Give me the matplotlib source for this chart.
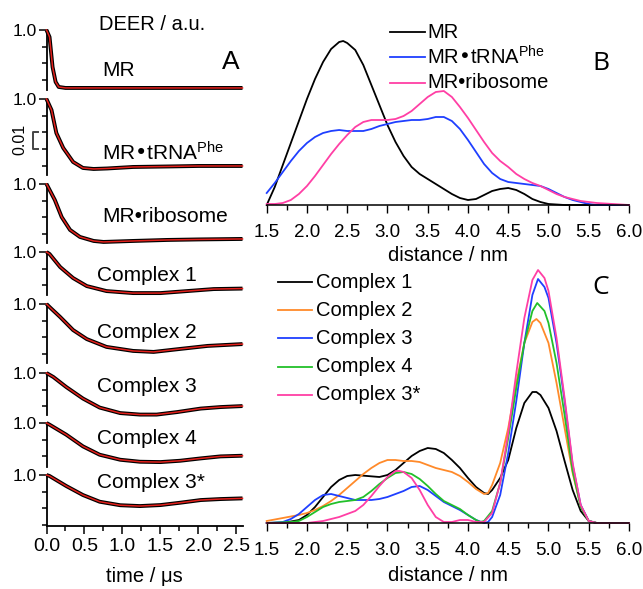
import matplotlib
matplotlib.use("Agg")
import matplotlib.pyplot as plt
from matplotlib.ticker import MultipleLocator, FixedLocator, FormatStrFormatter
import matplotlib.transforms as mtransforms

plt.rcParams['font.family'] = ['Liberation Sans', 'DejaVu Sans']
plt.rcParams['mathtext.default'] = 'regular'

W, H = 643, 589

# ---------------- Panel A data (time / us, decay in units of 0.01 below 1.0) ----------------
trace_names = ["MR", "MR•tRNA$^{Phe}$", "MR•ribosome", "Complex 1", "Complex 2",
               "Complex 3", "Complex 4", "Complex 3*"]
t_MR = [0, 0.04, 0.08, 0.12, 0.16, 0.25, 2.58]
d_MR = [0, 0.42, 2.22, 3.11, 3.41, 3.47, 3.47]
t_tRNA = [0, 0.066, 0.13, 0.22, 0.35, 0.48, 0.62, 0.8, 1.14, 1.6, 2.0, 2.58]
d_tRNA = [0, 0.66, 2.04, 2.93, 3.77, 4.13, 4.19, 4.16, 4.07, 4.04, 4.01, 4.01]
t_ribo = [0, 0.11, 0.2, 0.31, 0.44, 0.62, 0.75, 1.14, 1.59, 2.0, 2.58]
d_ribo = [0, 0.96, 1.98, 2.75, 3.17, 3.41, 3.47, 3.41, 3.35, 3.32, 3.29]
t_C1 = [0, 0.04, 0.18, 0.35, 0.53, 0.79, 1.14, 1.5, 1.85, 2.2, 2.58]
d_C1 = [0, 0.12, 0.90, 1.56, 2.04, 2.34, 2.46, 2.46, 2.34, 2.22, 2.19]
t_C2 = [0, 0.04, 0.18, 0.35, 0.53, 0.79, 1.14, 1.41, 1.76, 2.12, 2.58]
d_C2 = [0, 0.18, 0.78, 1.56, 2.10, 2.57, 2.81, 2.87, 2.69, 2.51, 2.40]
t_C3 = [0, 0.09, 0.26, 0.48, 0.7, 0.97, 1.23, 1.45, 1.72, 2.03, 2.29, 2.58]
d_C3 = [0, 0.24, 0.84, 1.53, 2.07, 2.40, 2.49, 2.49, 2.34, 2.13, 2.04, 1.98]
t_C4 = [0, 0.04, 0.26, 0.48, 0.7, 0.97, 1.23, 1.5, 1.76, 2.03, 2.29, 2.58]
d_C4 = [0, 0.10, 0.70, 1.40, 1.90, 2.20, 2.32, 2.34, 2.26, 2.12, 2.00, 1.96]
t_C3s = [0, 0.04, 0.26, 0.48, 0.7, 0.97, 1.23, 1.5, 1.76, 2.03, 2.29, 2.58]
d_C3s = [0, 0.06, 0.66, 1.20, 1.60, 1.81, 1.86, 1.80, 1.66, 1.50, 1.44, 1.40]
traces_t = [t_MR, t_tRNA, t_ribo, t_C1, t_C2, t_C3, t_C4, t_C3s]
traces_d = [d_MR, d_tRNA, d_ribo, d_C1, d_C2, d_C3, d_C4, d_C3s]
# visible depth of each trace's own y-axis (units of 0.01)
axis_depth = [3.6, 4.55, 3.55, 2.6, 3.55, 2.5, 2.65, 3.05]
time_ticks = [0.0, 0.5, 1.0, 1.5, 2.0, 2.5]

# ---------------- Panel B data (distance / nm, P(r) a.u.) ----------------
r_B_MR = [1.5, 1.6, 1.7, 1.8, 1.9, 2.0, 2.1, 2.2, 2.3, 2.4, 2.45, 2.5, 2.6, 2.7, 2.8, 2.9, 3.0,
          3.1, 3.2, 3.3, 3.4, 3.5, 3.6, 3.7, 3.8, 3.9, 4.0, 4.1, 4.2, 4.3, 4.4, 4.5, 4.6, 4.7,
          4.8, 4.9, 5.0, 5.2, 6.0]
p_B_MR = [0, 18, 40, 62, 84, 106, 126, 143, 156, 163, 164, 162, 155, 140, 120, 100, 80,
          63, 49, 38, 31, 26, 21, 16, 11, 7, 5, 6, 10, 14, 16, 17, 15, 11,
          6, 3, 1, 0, 0]
r_B_tRNA = [1.5, 1.6, 1.7, 1.8, 1.9, 2.0, 2.1, 2.2, 2.3, 2.4, 2.5, 2.6, 2.7, 2.8, 2.9, 3.0,
            3.1, 3.2, 3.3, 3.4, 3.5, 3.6, 3.7, 3.8, 3.9, 4.0, 4.1, 4.2, 4.3, 4.4, 4.5, 4.6,
            4.7, 4.8, 4.9, 5.0, 5.1, 5.2, 5.3, 5.4, 5.5, 5.6, 6.0]
p_B_tRNA = [12, 22, 33, 44, 54, 62, 68, 72, 74, 75, 74, 74, 74, 76, 79, 81,
            83, 84, 85, 85, 86, 88, 88, 84, 76, 65, 53, 41, 32, 26, 23, 22,
            21, 20, 19, 16, 12, 8, 5, 3, 1, 0, 0]
r_B_ribo = [1.5, 1.6, 1.7, 1.8, 1.9, 2.0, 2.1, 2.2, 2.3, 2.4, 2.5, 2.6, 2.7, 2.8, 2.9, 3.0,
            3.1, 3.2, 3.3, 3.4, 3.5, 3.6, 3.7, 3.8, 3.9, 4.0, 4.1, 4.2, 4.3, 4.4, 4.5, 4.6,
            4.7, 4.8, 4.9, 5.0, 5.1, 5.2, 5.3, 5.4, 5.5, 5.6, 5.8, 6.0]
p_B_ribo = [1, 1, 2, 5, 11, 19, 29, 40, 51, 61, 70, 78, 83, 85, 85, 85,
            86, 89, 94, 101, 108, 113, 114, 108, 98, 87, 75, 63, 52, 44, 38, 31,
            26, 22, 19, 15, 11, 8, 6, 4, 3, 2, 1, 0]
B_labels = ["MR", "MR•tRNA$^{Phe}$", "MR•ribosome"]
B_colors = ["#000000", "#1f3fff", "#ff3fa5"]

# ---------------- Panel C data ----------------
r_C1 = [1.5, 1.7, 1.9, 2.0, 2.1, 2.2, 2.3, 2.4, 2.5, 2.6, 2.75, 2.9, 3.0, 3.1, 3.2, 3.3, 3.4,
        3.5, 3.6, 3.7, 3.8, 3.9, 4.0, 4.1, 4.2, 4.25, 4.3, 4.4, 4.5, 4.6, 4.7, 4.8, 4.85, 4.9,
        5.0, 5.1, 5.2, 5.3, 5.4, 5.5, 5.6, 6.0]
p_C1 = [0, 0, 3, 8, 16, 26, 36, 43, 47, 48, 47, 46, 48, 53, 60, 67, 72,
        75, 74, 70, 63, 55, 45, 36, 30, 29, 33, 45, 63, 95, 120, 131, 131, 128,
        115, 92, 62, 33, 12, 2, 0, 0]
r_C2 = [1.5, 1.7, 1.9, 2.0, 2.1, 2.2, 2.3, 2.4, 2.5, 2.6, 2.7, 2.8, 2.9, 3.0, 3.1, 3.2, 3.3,
        3.4, 3.5, 3.6, 3.7, 3.8, 3.9, 4.0, 4.1, 4.2, 4.25, 4.3, 4.4, 4.5, 4.6, 4.7, 4.8, 4.85,
        4.9, 5.0, 5.1, 5.2, 5.3, 5.4, 5.5, 5.6, 6.0]
p_C2 = [2, 5, 8, 10, 13, 17, 22, 28, 35, 42, 49, 55, 60, 63, 63, 62, 62,
        61, 58, 55, 53, 51, 47, 41, 34, 29, 30, 38, 60, 95, 140, 180, 201, 204,
        200, 180, 140, 95, 50, 17, 2, 0, 0]
r_C3 = [1.5, 1.7, 1.8, 1.9, 2.0, 2.1, 2.2, 2.3, 2.4, 2.5, 2.6, 2.7, 2.8, 2.9, 3.0, 3.1, 3.2,
        3.3, 3.4, 3.5, 3.6, 3.7, 3.8, 3.9, 4.0, 4.1, 4.2, 4.25, 4.3, 4.4, 4.5, 4.6, 4.7, 4.8,
        4.87, 4.95, 5.0, 5.1, 5.2, 5.3, 5.4, 5.5, 5.6, 6.0]
p_C3 = [0, 1, 4, 9, 16, 23, 28, 29, 27, 25, 23, 23, 23, 24, 26, 29, 32,
        36, 37, 33, 27, 21, 17, 13, 8, 3, 0, 1, 6, 28, 70, 122, 180, 228,
        244, 236, 225, 180, 122, 58, 18, 2, 0, 0]
r_C4 = [1.5, 1.8, 1.9, 2.0, 2.1, 2.2, 2.3, 2.4, 2.5, 2.6, 2.7, 2.8, 2.9, 3.0, 3.1, 3.2, 3.3,
        3.4, 3.5, 3.6, 3.7, 3.8, 3.9, 4.0, 4.1, 4.15, 4.2, 4.3, 4.4, 4.5, 4.6, 4.7, 4.8, 4.86,
        4.95, 5.0, 5.1, 5.2, 5.3, 5.4, 5.5, 5.6, 6.0]
p_C4 = [0, 1, 2, 6, 11, 16, 19, 21, 22, 23, 26, 32, 39, 45, 50, 51, 49,
        44, 37, 29, 22, 18, 14, 8, 3, 1, 2, 12, 40, 85, 135, 180, 212, 220,
        212, 200, 160, 108, 52, 16, 2, 0, 0]
r_C3s = [1.5, 2.0, 2.2, 2.4, 2.5, 2.6, 2.7, 2.8, 2.9, 3.0, 3.1, 3.15, 3.2, 3.3, 3.4, 3.5,
         3.6, 3.7, 3.8, 3.9, 4.0, 4.1, 4.2, 4.3, 4.4, 4.5, 4.6, 4.7, 4.8, 4.87, 4.95, 5.0,
         5.1, 5.2, 5.3, 5.4, 5.5, 5.6, 6.0]
p_C3s = [0, 0, 2, 6, 9, 12, 18, 27, 37, 46, 52, 52, 51, 45, 33, 18,
         6, 1, 1, 3, 3, 1, 1, 10, 40, 90, 150, 205, 243, 253, 245, 232,
         185, 125, 60, 18, 2, 0, 0]
C_labels = ["Complex 1", "Complex 2", "Complex 3", "Complex 4", "Complex 3*"]
C_colors = ["#000000", "#ff8a2a", "#1f3fff", "#22c02a", "#ff3fa5"]
C_r = [r_C1, r_C2, r_C3, r_C4, r_C3s]
C_p = [p_C1, p_C2, p_C3, p_C4, p_C3s]
dist_ticks = [1.5, 2.0, 2.5, 3.0, 3.5, 4.0, 4.5, 5.0, 5.5, 6.0]

# ---------------- figure ----------------
fig = plt.figure(figsize=(W / 100, H / 100), dpi=100)

def fx(px):
    return px / W

def fy(py):
    return 1 - py / H

PX_PER_UNIT = 16.7  # pixels per 0.01 a.u.
A_left, A_right = 46.5, 242.5
trace_tops = [30, 99, 184, 252, 304, 373, 423, 475]

label_pos = [(102, 71), (102, 153), (102, 216), (97, 275), (97, 333), (97, 387), (97, 439), (97, 482)]

axes_A = []
for i in range(8):
    top = trace_tops[i]
    depth = axis_depth[i]
    bot = top + depth * PX_PER_UNIT
    ax = fig.add_axes([fx(A_left), fy(bot), fx(A_right) - fx(A_left), (bot - top) / H])
    ax.patch.set_visible(False)
    vals = [1 - 0.01 * d for d in traces_d[i]]
    ax.plot(traces_t[i], vals, color="black", lw=2.8, solid_capstyle="butt", clip_on=False, zorder=2)
    ax.plot(traces_t[i], vals, color="#e3201b", lw=1.1, clip_on=False, zorder=3)
    ax.set_xlim(0, 2.58)
    ax.set_ylim(1 - 0.01 * depth, 1.0)
    for s in ["top", "right"]:
        ax.spines[s].set_visible(False)
    ax.spines["left"].set_linewidth(1.3)
    ax.yaxis.set_major_locator(FixedLocator([1.0]))
    ax.yaxis.set_major_formatter(FormatStrFormatter("%.1f"))
    minors = [1 - 0.01 * k for k in range(1, int(depth) + 1)]
    ax.yaxis.set_minor_locator(FixedLocator(minors))
    ax.tick_params(axis="y", which="major", length=6, width=1.1, labelsize=12.5, pad=1)
    ax.tick_params(axis="y", which="minor", length=3.5, width=1.1)
    if i < 7:
        ax.spines["bottom"].set_visible(False)
        ax.set_xticks([])
    else:
        ax.spines["bottom"].set_linewidth(1.3)
        ax.set_xticks(time_ticks)
        ax.xaxis.set_major_formatter(FormatStrFormatter("%.1f"))
        ax.xaxis.set_minor_locator(MultipleLocator(0.25))
        ax.tick_params(axis="x", which="major", length=6, width=1.1, labelsize=14, pad=3)
        ax.tick_params(axis="x", which="minor", length=3.5, width=1.1)
        ax.set_xlabel("time / μs", fontsize=14.5, labelpad=8)
    lx, ly = label_pos[i]
    fig.text(fx(lx), fy(ly), trace_names[i], fontsize=15, ha="left", va="center")
    axes_A.append(ax)

# scale bar 0.01 on tRNA trace
axt = axes_A[1]
tr = mtransforms.blended_transform_factory(axt.transAxes, axt.transData)
x0 = (33 - A_left) / (A_right - A_left)
x1 = (37.5 - A_left) / (A_right - A_left)
axt.plot([x1, x0, x0, x1], [0.98, 0.98, 0.97, 0.97], transform=tr, color="#444444",
         lw=1.4, clip_on=False)
fig.text(fx(20), fy(139), "0.01", rotation=90, fontsize=11.5, ha="center", va="center")

fig.text(fx(152), fy(24), "DEER / a.u.", fontsize=14.5, ha="center", va="center")
fig.text(fx(231), fy(62), "A", fontsize=19, ha="center", va="center")

# ---------------- Panel B ----------------
B_left, B_right = 266.7, 629
B_base, B_top = 205, 30
axB = fig.add_axes([fx(B_left), fy(B_base), fx(B_right) - fx(B_left), (B_base - B_top) / H])
axB.patch.set_visible(False)
for r, p, c in zip([r_B_MR, r_B_tRNA, r_B_ribo], [p_B_MR, p_B_tRNA, p_B_ribo], B_colors):
    axB.plot(r, p, color=c, lw=1.3, clip_on=False)
axB.set_xlim(1.5, 6.0)
axB.set_ylim(0, B_base - B_top)

# ---------------- Panel C ----------------
C_base, C_top = 523, 262
axC = fig.add_axes([fx(B_left), fy(C_base), fx(B_right) - fx(B_left), (C_base - C_top) / H])
axC.patch.set_visible(False)
for r, p, c in zip(C_r, C_p, C_colors):
    axC.plot(r, p, color=c, lw=1.3, clip_on=False)
axC.set_xlim(1.5, 6.0)
axC.set_ylim(0, C_base - C_top)

for ax, lp in ((axB, 3), (axC, 5)):
    for s in ["top", "right", "left"]:
        ax.spines[s].set_visible(False)
    ax.spines["bottom"].set_linewidth(1.1)
    ax.set_yticks([])
    ax.set_xticks(dist_ticks)
    ax.xaxis.set_major_formatter(FormatStrFormatter("%.1f"))
    ax.xaxis.set_minor_locator(MultipleLocator(0.25))
    ax.tick_params(axis="x", which="major", length=6, width=1.0, labelsize=13.5, pad=8)
    ax.tick_params(axis="x", which="minor", length=3.5, width=1.0)
    ax.set_xlabel("distance / nm", fontsize=14.5, labelpad=lp)

# legends (manual)
B_rows = [32, 57, 83]
for lab, c, yy in zip(B_labels, B_colors, B_rows):
    fig.add_artist(plt.Line2D([fx(390), fx(425)], [fy(yy), fy(yy)], color=c, lw=1.3))
    fig.text(fx(427), fy(yy), lab, fontsize=14.5, ha="left", va="center")
C_rows = [282, 310, 338, 367, 395]
for lab, c, yy in zip(C_labels, C_colors, C_rows):
    fig.add_artist(plt.Line2D([fx(278), fx(312)], [fy(yy), fy(yy)], color=c, lw=1.3))
    fig.text(fx(316), fy(yy), lab, fontsize=14.5, ha="left", va="center")

fig.text(fx(601), fy(64), "B", fontsize=19, ha="center", va="center", family="Open Sans")
fig.text(fx(601), fy(287), "C", fontsize=19, ha="center", va="center", family="Open Sans")

fig.savefig("out.png", dpi=100)
